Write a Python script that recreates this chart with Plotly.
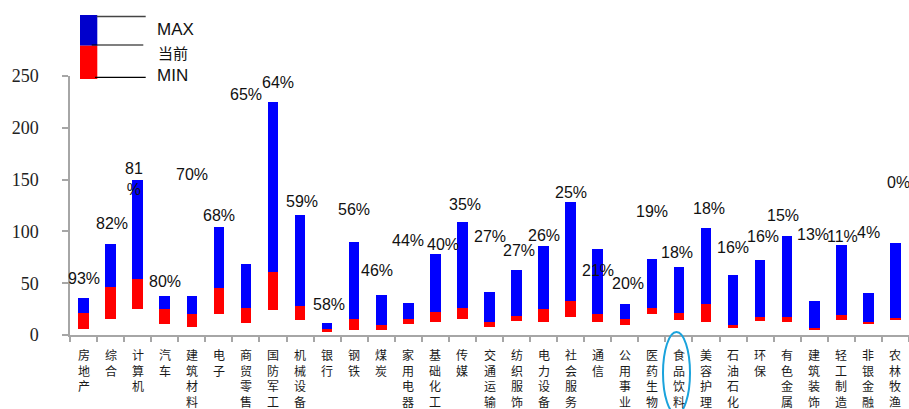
import plotly.graph_objects as go

# Industry categories (x axis)
categories = ["房地产", "综合", "计算机", "汽车", "建筑材料", "电子", "商贸零售", "国防军工",
              "机械设备", "银行", "钢铁", "煤炭", "家用电器", "基础化工", "传媒", "交通运输",
              "纺织服饰", "电力设备", "社会服务", "通信", "公用事业", "医药生物", "食品饮料",
              "美容护理", "石油石化", "环保", "有色金属", "建筑装饰", "轻工制造", "非银金融", "农林牧渔"]

# Historical maximum, current and minimum values per industry
max_vals = [36.0, 87.8, 149.5, 37.3, 37.3, 104.1, 68.8, 225.0, 115.4, 11.2,
            89.7, 38.9, 31.2, 78.4, 109.3, 41.2, 63.0, 85.8, 128.0, 82.9,
            29.6, 73.3, 65.3, 103.2, 57.9, 72.0, 95.2, 32.8, 86.8, 40.2, 88.4]
cur_vals = [21.2, 46.6, 54.3, 25.4, 20.6, 45.6, 26.3, 61.0, 28.3, 6.1,
            15.4, 9.9, 15.4, 21.9, 26.3, 12.8, 18.3, 25.4, 32.8, 20.6,
            15.4, 26.3, 20.9, 30.2, 9.9, 17.6, 17.6, 6.8, 19.6, 12.8, 16.1]
min_vals = [5.8, 15.8, 24.7, 10.3, 8.0, 20.6, 11.2, 24.4, 14.2, 3.2,
            5.1, 5.1, 10.3, 12.8, 15.4, 7.4, 13.5, 12.8, 17.4, 12.8,
            9.3, 20.6, 14.5, 12.5, 7.0, 13.2, 12.5, 5.5, 14.2, 10.6, 15.1]

# Percentile of the current value within its history
pct_labels = ["93%", "82%", "81<br>%", "80%", "70%", "68%", "65%", "64%", "59%", "58%",
              "56%", "46%", "44%", "40%", "35%", "27%", "27%", "26%", "25%", "21%",
              "20%", "19%", "18%", "18%", "16%", "16%", "15%", "13%", "11%", "4%", "0%"]

# Placement of each percentile label: (horizontal offset in categories, height on value axis)
pct_label_pos = [(0.0, 54.1), (0.07, 107.8), (-0.13, 150.6), (0.0, 51.4), (0.0, 155.4),
                 (0.0, 115.2), (0.0, 232.3), (0.17, 243.5), (0.07, 128.7), (0.07, 29.0),
                 (0.0, 120.7), (-0.17, 62.7), (0.0, 91.0), (0.27, 87.8), (0.09, 125.5),
                 (0.0, 94.9), (0.09, 81.1), (0.0, 95.6), (0.0, 137.4), (0.0, 62.7),
                 (0.1, 49.9), (0.0, 119.0), (-0.07, 79.8), (0.11, 122.3), (0.0, 84.7),
                 (0.09, 94.9), (-0.15, 115.8), (-0.05, 97.2), (0.05, 94.9), (0.0, 99.1),
                 (0.1, 147.4)]

y_ticks = [0, 50, 100, 150, 200, 250]

W, H = 909, 409
ML, MR, MT, MB = 70, 0, 76, 74
PW, PH = W - ML - MR, H - MT - MB


def px(x):
    return (x - ML) / PW


def py(y):
    return (H - MB - y) / PH


idx = list(range(len(categories)))
red_h = [c - m for c, m in zip(cur_vals, min_vals)]
blue_h = [mx - c for mx, c in zip(max_vals, cur_vals)]

fig = go.Figure()
fig.add_trace(go.Bar(x=idx, y=red_h, base=min_vals, width=0.39,
                     marker=dict(color="#FF0000", line=dict(width=0)), name="当前", showlegend=False))
fig.add_trace(go.Bar(x=idx, y=blue_h, base=cur_vals, width=0.39,
                     marker=dict(color="#0000FF", line=dict(width=0)), name="MAX", showlegend=False))

annotations = []
# percentile labels
for i, (lab, (dx, yv)) in enumerate(zip(pct_labels, pct_label_pos)):
    annotations.append(dict(x=i + dx, y=yv, xref="x", yref="y", text=lab, showarrow=False,
                            font=dict(family="Liberation Sans, Arial", size=16, color="#111111"),
                            xanchor="center", yanchor="middle"))

# vertical category labels, one character per line
for i, name in enumerate(categories):
    annotations.append(dict(x=i, y=py(345), xref="x", yref="paper", text="<br>".join(name),
                            showarrow=False, xanchor="center", yanchor="top", borderpad=0,
                            font=dict(family="Noto Sans CJK SC", size=12, color="#1a1a1a")))

# legend texts
annotations += [
    dict(x=px(155), y=py(29.5), xref="paper", yref="paper", text="MAX", showarrow=False,
         xanchor="left", yanchor="middle", font=dict(family="Liberation Sans, Arial", size=17, color="#111111")),
    dict(x=px(156), y=py(52.5), xref="paper", yref="paper", text="当前", showarrow=False,
         xanchor="left", yanchor="middle", font=dict(family="Noto Sans CJK SC", size=15, color="#111111")),
    dict(x=px(155), y=py(75), xref="paper", yref="paper", text="MIN", showarrow=False,
         xanchor="left", yanchor="middle", font=dict(family="Liberation Sans, Arial", size=17, color="#111111")),
]

shapes = [
    dict(type="rect", xref="paper", yref="paper", x0=px(80), x1=px(97.3), y0=py(45.7), y1=py(15),
         fillcolor="#0000CC", line=dict(width=0)),
    dict(type="rect", xref="paper", yref="paper", x0=px(80), x1=px(97.3), y0=py(79), y1=py(45.7),
         fillcolor="#FF0000", line=dict(width=0)),
    dict(type="line", xref="paper", yref="paper", x0=px(96.7), x1=px(145.7), y0=py(16.5), y1=py(16.5),
         line=dict(color="#444444", width=1.5)),
    dict(type="line", xref="paper", yref="paper", x0=px(91.7), x1=px(143.3), y0=py(45), y1=py(45),
         line=dict(color="#000000", width=1.2)),
    dict(type="line", xref="paper", yref="paper", x0=px(95), x1=px(145.7), y0=py(77.3), y1=py(77.3),
         line=dict(color="#000000", width=1.2)),
    # highlight around the food & beverage label
    dict(type="circle", xref="paper", yref="paper", x0=px(663), x1=px(690), y0=py(414), y1=py(332),
         line=dict(color="#1AA3DC", width=2)),
]

fig.update_layout(
    width=W, height=H,
    margin=dict(l=ML, r=MR, t=MT, b=MB),
    paper_bgcolor="white", plot_bgcolor="white",
    barmode="overlay", bargap=0,
    showlegend=False,
    annotations=annotations,
    shapes=shapes,
    xaxis=dict(range=[-0.5, 30.5], tickmode="array", tickvals=[i - 0.5 for i in idx] + [30.5],
               showticklabels=False, ticks="outside", ticklen=5, tickcolor="#A6A6A6", tickwidth=1.5,
               showline=True, linecolor="#A6A6A6", linewidth=1.5, showgrid=False, zeroline=False,
               fixedrange=True),
    yaxis=dict(range=[0, 250], tickvals=y_ticks, ticktext=[str(v) for v in y_ticks],
               ticks="outside", ticklen=6, tickcolor="#A6A6A6", tickwidth=1.5,
               showline=True, linecolor="#A6A6A6", linewidth=1.5, showgrid=False, zeroline=False,
               ticklabelstandoff=20,
               tickfont=dict(family="Liberation Serif, Times New Roman", size=18, color="#222222")),
)

fig.write_html("out.html")
